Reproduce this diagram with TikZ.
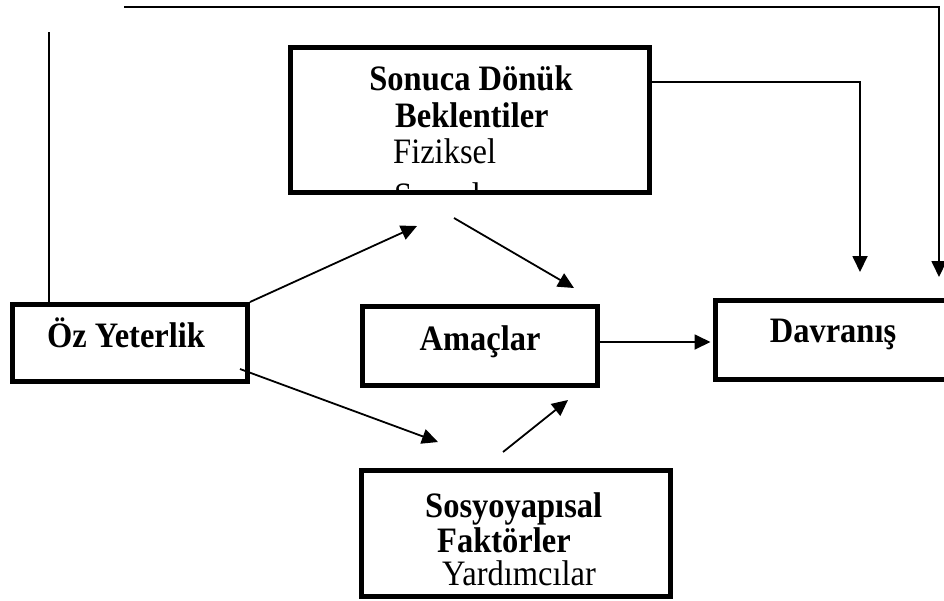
\documentclass[tikz,border=0pt]{standalone}
\usepackage{fontspec}
\usepackage{graphicx}
\setmainfont{Liberation Serif}
\usetikzlibrary{arrows.meta}

% slightly tall lettering used in all boxes
\newcommand\tallword[1]{\scalebox{1}[1.1]{#1}}

\tikzset{
  box/.style={draw, rectangle, line width=5pt, inner sep=0pt},
  txt/.style={inner sep=0pt, font=\fontsize{32.5}{38}\selectfont},
  btxt/.style={txt, font=\fontsize{32.5}{38}\selectfont\bfseries},
  wire/.style={line width=1.8pt},
  arr/.style={wire, -{Triangle[length=16pt,width=15pt]}},
}

\begin{document}
\begin{tikzpicture}[x=1pt, y=-1pt]
\useasboundingbox (0,0) rectangle (944,600);

% boxes
\node[box, minimum width=235pt, minimum height=77pt]  (oz)  at (130,343)   {};
\node[box, minimum width=359pt, minimum height=145pt] (son) at (470,120)   {};
\node[box, minimum width=235pt, minimum height=79pt]  (ama) at (480,346)   {};
\node[box, minimum width=235pt, minimum height=78.5pt](dav) at (833,340)   {};
\node[box, minimum width=309pt, minimum height=126pt] (sos) at (515.5,533) {};

% box texts
\node[btxt, anchor=base] (ozt)  at (126,347) {\tallword{Öz Yeterlik}};
\node[btxt, anchor=base] (amat) at (480,350) {\tallword{Amaçlar}};
\node[btxt, anchor=base] (davt) at (833,342) {\tallword{Davranış}};

\begin{scope}
  \clip ([shift={(2.5,2.5)}]son.north west) rectangle ([shift={(-2.5,-2.5)}]son.south east);
  \node[btxt, anchor=base]      (sont1) at (471,90)  {\tallword{Sonuca Dönük}};
  \node[btxt, anchor=base west] (sont2) at (395,127) {\tallword{Beklentiler}};
  \node[txt,  anchor=base west] (sont3) at (393,163) {\tallword{Fiziksel}};
  \node[txt,  anchor=base west] (sont4) at (394,207) {\tallword{Sosyal}};
\end{scope}

\node[btxt, anchor=base west] (sost1) at (425,517) {\tallword{Sosyoyapısal}};
\node[btxt, anchor=base west] (sost2) at (437,552) {\tallword{Faktörler}};
\node[txt,  anchor=base west] (sost3) at (442,585) {\tallword{Yardımcılar}};

% free ends and bends of the connectors
\coordinate (v0) at (49,32);
\coordinate (p0) at (124,7);
\coordinate (p1) at (939,7);
\coordinate (t2) at (939,277);
\coordinate (k1) at (860,82);
\coordinate (t1) at (860,272);
\coordinate (t3) at (417,226);
\coordinate (s5) at (454,218);
\coordinate (t5) at (574,288);
\coordinate (s6) at (240,369);
\coordinate (t6) at (438,442);
\coordinate (s7) at (503,452);
\coordinate (t7) at (568,400);
\coordinate (h8) at (0,342);

% connectors
\draw[wire] (v0) -- (v0 |- oz.north);
\draw[arr] (p0) -- (p1) -- (t2);
\draw[arr] (son.east |- k1) -- (k1) -- (t1);
\draw[arr] (oz.north east) -- (t3);
\draw[arr] (s5) -- (t5);
\draw[arr] (s6) -- (t6);
\draw[arr] (s7) -- (t7);
\draw[arr] (ama.east |- h8) -- ([xshift=-2.5pt]dav.west |- h8);
\end{tikzpicture}
\end{document}
